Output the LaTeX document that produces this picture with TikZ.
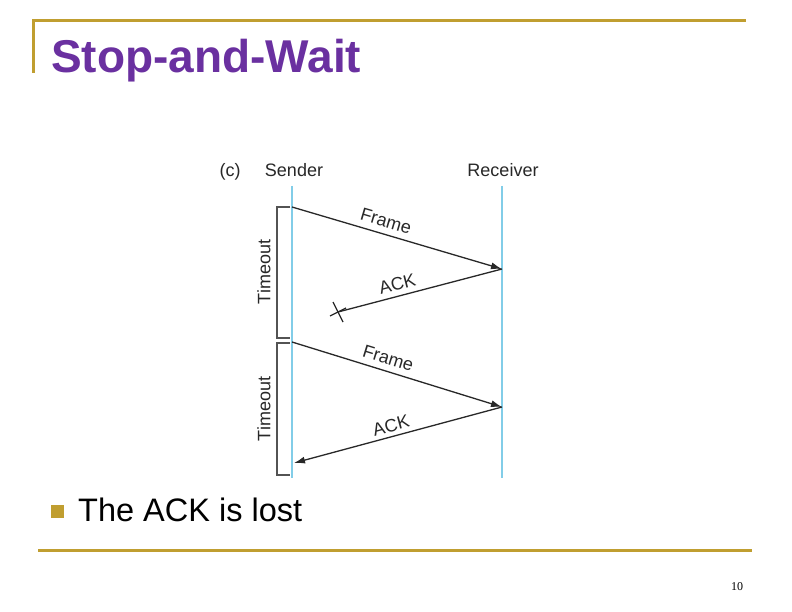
\documentclass[tikz,border=0pt]{standalone}
\usepackage{fontspec}
\setmainfont{Liberation Sans}
\newfontfamily\pagenofont{Liberation Serif}
\usetikzlibrary{arrows.meta}
\definecolor{gold}{RGB}{192,158,48}
\definecolor{titlepurple}{RGB}{106,48,160}
\definecolor{lifeblue}{RGB}{130,205,232}
\definecolor{inkgray}{RGB}{40,40,40}
\begin{document}
\begin{tikzpicture}[x=1pt,y=-1pt,
              rule/.style={draw=gold,line width=3pt},
              life/.style={draw=lifeblue,line width=1.8pt},
              msg/.style={draw=inkgray,line width=1.3pt},
              tip/.style={-{Latex[length=11pt,width=7pt]}},
              brk/.style={draw=inkgray!80,line width=1.3pt},
              lbl/.style={text=inkgray,font=\fontsize{18}{18}\selectfont,inner sep=1pt}]
  \useasboundingbox[fill=white] (0,0) rectangle (792,612);
  % slide frame
  \draw[rule] (33,73) -- (33,20.5) -- (746,20.5);
  \draw[rule] (38,550) -- (752,550);
  \node[anchor=base west,inner sep=0,text=titlepurple,
        font=\fontsize{46}{46}\bfseries] (title) at (51,73) {Stop-and-Wait};
  % headings
  \node[lbl,anchor=base] (tagc) at (230,177) {(c)};
  \node[lbl,anchor=base] (snd) at (294,177) {Sender};
  \node[lbl,anchor=base] (rcv) at (503,177) {Receiver};
  % lifelines
  \coordinate (sT) at (292,186);
  \coordinate (sB) at (292,478);
  \coordinate (rT) at (502,186);
  \coordinate (rB) at (502,478);
  \draw[life] (sT) -- (sB);
  \draw[life] (rT) -- (rB);
  % exchange points
  \coordinate (s1) at (292,207);
  \coordinate (r1) at (502,269);
  \coordinate (x1) at (338,312);
  \coordinate (s2) at (292,342);
  \coordinate (r2) at (502,407);
  \coordinate (s3) at (294,463);
  \draw[msg,tip] (s1) -- node[lbl,sloped,above=5pt,pos=0.43] (frm1) {Frame} (r1);
  \draw[msg] (r1) -- node[lbl,sloped,above=4pt,pos=0.62] (ack1) {ACK} (x1);
  \draw[msg] ([shift={(-5,-10)}]x1) -- ([shift={(5,10)}]x1);
  \draw[msg] ([shift={(-8,4)}]x1) -- ([shift={(8,-4)}]x1);
  \draw[msg,tip] (s2) -- node[lbl,sloped,above=5pt,pos=0.44] (frm2) {Frame} (r2);
  \draw[msg,tip] (r2) -- node[lbl,sloped,above=3pt,pos=0.52] (ack2) {ACK} (s3);
  % timeout brackets
  \draw[brk] (290,207) -- (277,207) -- (277,338) -- (290,338);
  \draw[brk] (290,343) -- (277,343) -- (277,475) -- (290,475);
  \node[lbl,rotate=90] (tmo1) at (264,272) {Timeout};
  \node[lbl,rotate=90] (tmo2) at (264,409) {Timeout};
  % bullet
  \node[fill=gold,minimum size=13pt,inner sep=0] (dot) at (57,511) {};
  \node[anchor=base west,inner sep=0,font=\fontsize{32.5}{32.5}\selectfont] (point) at (78,521) {The ACK is lost};
  \node[inner sep=0,font=\pagenofont\fontsize{12}{12}\selectfont] (pageno) at (737,587) {10};
\end{tikzpicture}
\end{document}
